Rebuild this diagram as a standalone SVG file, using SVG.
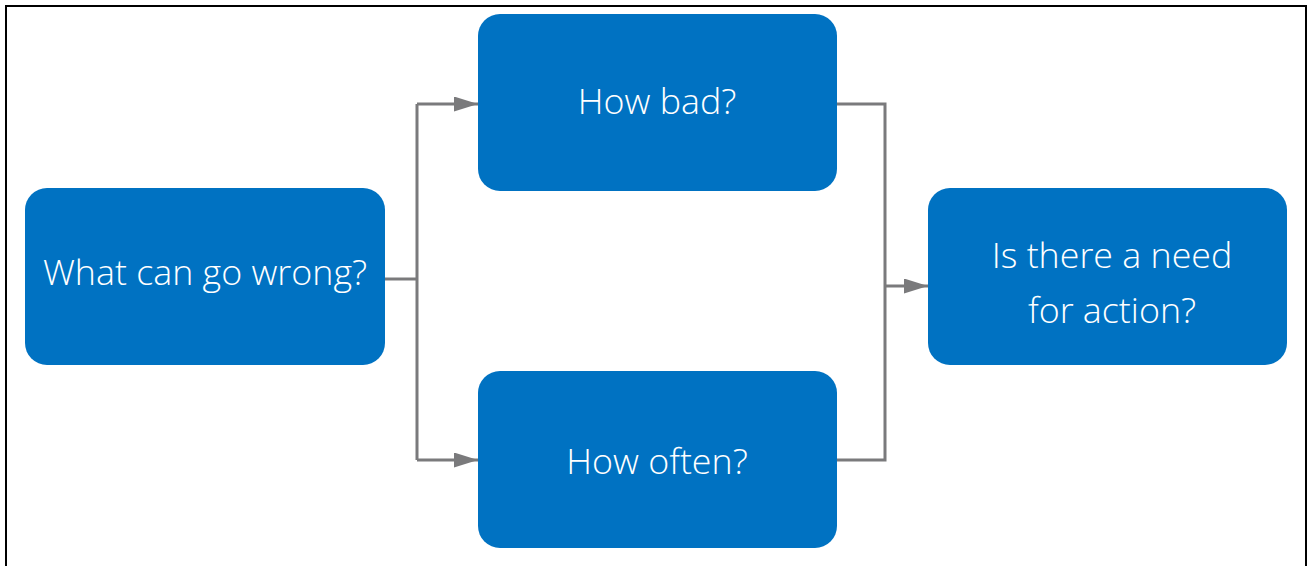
<svg xmlns="http://www.w3.org/2000/svg" width="1312" height="566" viewBox="0 0 1312 566">
<style>
.box{fill:#0072C2;}
.lbl{font-family:"Open Sans","Noto Sans",sans-serif;font-size:35.8px;font-weight:300;fill:#ffffff;text-anchor:middle;}
.con{fill:none;stroke:#7a7a7c;stroke-width:3;}
</style>
<defs>
<marker id="arr" markerWidth="8" markerHeight="5" refX="8" refY="2.5" orient="auto" markerUnits="strokeWidth">
<path d="M0,0 L8,2.5 L0,5 Z" fill="#7a7a7c"/>
</marker>
</defs>
<rect x="0" y="0" width="1312" height="566" fill="#ffffff"/>
<path d="M6,566 V6 H1306 V566" fill="none" stroke="#000" stroke-width="2"/>
<g id="connectors">
<path class="con" d="M385,279 H417"/>
<path class="con" d="M417,104 V460"/>
<path class="con" d="M417,104 H478" marker-end="url(#arr)"/>
<path class="con" d="M417,460 H478" marker-end="url(#arr)"/>
<path class="con" d="M837,104 H885 V460 H837"/>
<path class="con" d="M885,286 H928" marker-end="url(#arr)"/>
</g>
<g id="n1">
<rect class="box" x="25" y="188" width="360" height="177" rx="22"/>
<text class="lbl" x="205" y="285">What can go wrong?</text>
</g>
<g id="n2">
<rect class="box" x="478" y="14" width="359" height="177" rx="22"/>
<text class="lbl" x="657" y="114">How bad?</text>
</g>
<g id="n3">
<rect class="box" x="478" y="371" width="359" height="177" rx="22"/>
<text class="lbl" x="657" y="474">How often?</text>
</g>
<g id="n4">
<rect class="box" x="928" y="188" width="359" height="177" rx="22"/>
<text class="lbl" x="1112" y="268">Is there a need</text>
<text class="lbl" x="1112" y="323">for action?</text>
</g>
</svg>
